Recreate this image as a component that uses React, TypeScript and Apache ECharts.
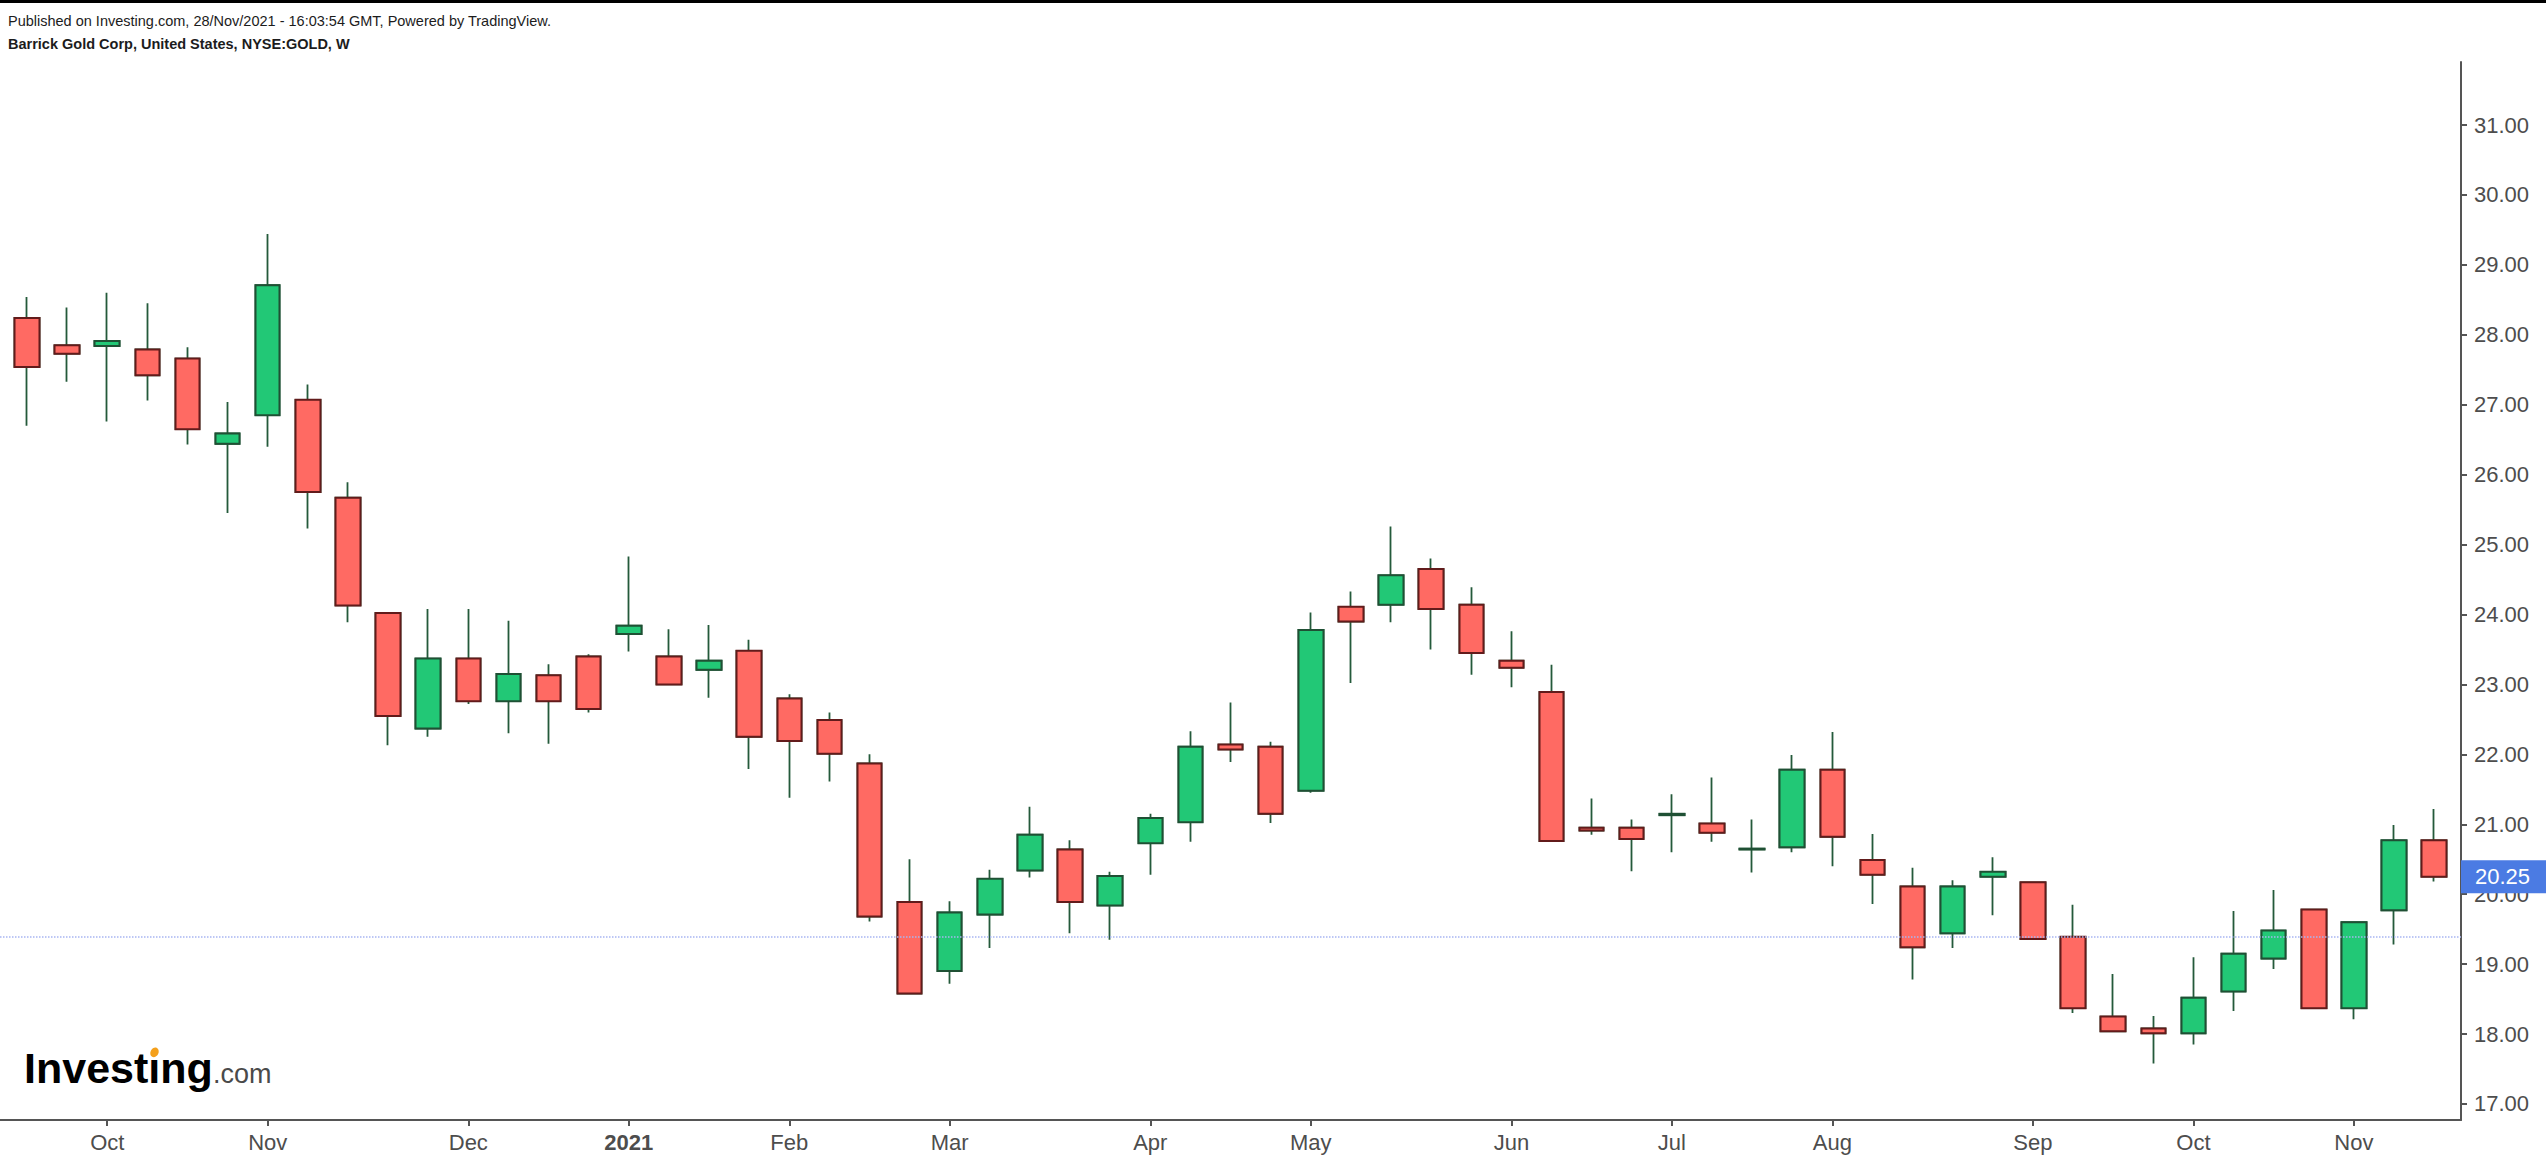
import React, { useEffect, useRef } from "react";
import * as echarts from "echarts";

// Weekly candles, week index 0 = 21 Sep 2020 ... 60 = 15 Nov 2021
const opens = [
  28.24, 27.85, 27.84, 27.79, 27.66, 26.44, 26.85, 27.07, 25.67, 24.02,
  22.37, 23.37, 22.76, 23.13, 23.40, 23.72, 23.40, 23.21, 23.48, 22.80,
  22.49, 21.87, 19.89, 18.90, 19.71, 20.34, 20.64, 19.84, 20.73, 21.03,
  22.14, 22.11, 21.48, 24.11, 24.14, 24.65, 24.14, 23.34, 22.89, 20.95,
  20.95, 21.13, 21.01, 20.64, 20.67, 21.78, 20.49, 20.11, 19.44, 20.25,
  20.17, 19.39, 18.25, 18.08, 18.01, 18.61, 19.08, 19.78, 18.37, 19.77,
  20.77,
];
const closes = [
  27.54, 27.73, 27.91, 27.42, 26.65, 26.59, 28.71, 25.75, 24.13, 22.55,
  23.37, 22.76, 23.15, 22.76, 22.65, 23.84, 23.00, 23.34, 22.25, 22.19,
  22.01, 19.68, 18.58, 19.74, 20.22, 20.85, 19.89, 20.26, 21.09, 22.11,
  22.07, 21.15, 23.78, 23.90, 24.56, 24.08, 23.45, 23.24, 20.76, 20.91,
  20.79, 21.15, 20.88, 20.65, 21.78, 20.82, 20.28, 19.24, 20.11, 20.32,
  19.36, 18.37, 18.04, 18.01, 18.52, 19.15, 19.48, 18.37, 19.60, 20.77,
  20.25,
];
const lows = [
  26.70, 27.33, 26.76, 27.06, 26.43, 25.45, 26.40, 25.23, 23.89, 22.13,
  22.25, 22.72, 22.30, 22.15, 22.60, 23.47, 22.99, 22.81, 21.79, 21.38,
  21.61, 19.61, 18.57, 18.72, 19.23, 20.24, 19.44, 19.35, 20.28, 20.75,
  21.89, 21.02, 21.45, 23.02, 23.89, 23.50, 23.14, 22.96, 20.75, 20.85,
  20.33, 20.60, 20.75, 20.31, 20.60, 20.40, 19.86, 18.78, 19.23, 19.70,
  19.35, 18.30, 18.03, 17.58, 17.85, 18.33, 18.93, 18.36, 18.21, 19.28,
  20.18,
];
const highs = [
  28.54, 28.39, 28.60, 28.45, 27.82, 27.04, 29.44, 27.29, 25.89, 24.02,
  24.08, 24.08, 23.91, 23.29, 23.43, 24.83, 23.79, 23.85, 23.64, 22.86,
  22.60, 22.00, 20.50, 19.90, 20.35, 21.25, 20.77, 20.32, 21.15, 22.33,
  22.74, 22.18, 24.03, 24.33, 25.26, 24.80, 24.39, 23.76, 23.28, 21.37,
  21.07, 21.43, 21.67, 21.07, 21.99, 22.32, 20.86, 20.38, 20.20, 20.53,
  20.18, 19.85, 18.86, 18.26, 19.10, 19.76, 20.06, 19.79, 19.61, 20.99,
  21.22,
];

// Month labels sit on the first weekly bar of each month
const monthTickIdx = [2, 6, 11, 15, 19, 23, 28, 32, 37, 41, 45, 50, 54, 58];
const monthTickLabels = ["Oct", "Nov", "Dec", "2021", "Feb", "Mar", "Apr", "May", "Jun", "Jul", "Aug", "Sep", "Oct", "Nov"];
const priceTicks = [17, 18, 19, 20, 21, 22, 23, 24, 25, 26, 27, 28, 29, 30, 31];
const lastPrice = 20.25;
const refLine = 19.39;

const FONT = '"Liberation Sans", Arial, Helvetica, sans-serif';

export default function App() {
  const ref = useRef<HTMLDivElement>(null);

  useEffect(() => {
    document.body.style.margin = "0";
    if (!ref.current) return;
    const chart = echarts.init(ref.current, null, { renderer: "svg" });

    const wickData = opens.map((o, i) => [i, o, closes[i], lows[i], highs[i]]);
    const bodyData = opens.map((o, i) => [
      i,
      o,
      closes[i],
      Math.min(o, closes[i]),
      Math.max(o, closes[i]),
    ]);

    const option: any = {
      animation: false,
      backgroundColor: "#ffffff",
      grid: {
        left: 0,
        right: 85,
        top: 62,
        bottom: 42,
        containLabel: false,
        outerBoundsMode: "none",
      },
      xAxis: {
        type: "value",
        min: -0.673,
        max: 60.67,
        axisLine: { show: true, onZero: false, lineStyle: { color: "#555555", width: 2 } },
        axisTick: {
          show: true,
          length: 6,
          customValues: monthTickIdx,
          lineStyle: { color: "#555555", width: 2 },
        },
        splitLine: { show: false },
        axisLabel: {
          show: true,
          customValues: monthTickIdx,
          margin: 11,
          color: "#4d4d4d",
          fontSize: 22,
          fontFamily: FONT,
          formatter: (v: number) => {
            const k = monthTickIdx.indexOf(Math.round(v));
            const t = k >= 0 ? monthTickLabels[k] : "";
            return t === "2021" ? "{b|2021}" : t;
          },
          rich: {
            b: { fontWeight: "bold", fontSize: 22, fontFamily: FONT, color: "#4d4d4d" },
          },
        },
      },
      yAxis: {
        type: "value",
        position: "right",
        min: 16.771,
        max: 31.901,
        splitNumber: 15,
        scale: true,
        axisLine: { show: true, onZero: false, lineStyle: { color: "#555555", width: 2 } },
        axisTick: {
          show: true,
          length: 6,
          customValues: priceTicks,
          lineStyle: { color: "#555555", width: 2 },
        },
        splitLine: { show: false },
        axisLabel: {
          show: true,
          customValues: priceTicks,
          margin: 13,
          color: "#4d4d4d",
          fontSize: 22,
          fontFamily: FONT,
          formatter: (v: number) => v.toFixed(2),
        },
      },
      series: [
        {
          name: "wicks",
          type: "candlestick",
          data: wickData,
          barWidth: 25,
          z: 2,
          itemStyle: {
            color: "rgba(0,0,0,0)",
            color0: "rgba(0,0,0,0)",
            borderColor: "#245a3b",
            borderColor0: "#245a3b",
            borderColorDoji: "#245a3b",
            borderWidth: 1.8,
          },
        },
        {
          name: "bodies",
          type: "candlestick",
          data: bodyData,
          barWidth: 25,
          z: 3,
          itemStyle: {
            color: "#22c876",
            color0: "#ff6a63",
            borderColor: "#1f5034",
            borderColor0: "#621b1b",
            borderColorDoji: "#1f5034",
            borderWidth: 2,
          },
          markLine: {
            silent: true,
            symbol: "none",
            animation: false,
            z: 5,
            data: [
              {
                yAxis: refLine,
                lineStyle: { color: "#a8b5f2", type: "dotted", width: 1.5 },
                label: { show: false },
              },
              {
                yAxis: lastPrice,
                lineStyle: { color: "rgba(0,0,0,0)", width: 1 },
                label: {
                  show: true,
                  position: "end",
                  distance: 0,
                  formatter: lastPrice.toFixed(2),
                  backgroundColor: "#4b7be3",
                  color: "#ffffff",
                  fontSize: 22,
                  fontFamily: FONT,
                  padding: [6, 18, 5, 14],
                },
              },
            ],
          },
        },
      ],
      graphic: [
        {
          type: "rect",
          shape: { x: 0, y: 0, width: 2546, height: 3 },
          style: { fill: "#000000" },
          silent: true,
        },
        {
          type: "text",
          x: 8,
          y: 21,
          style: {
            text: "Published on Investing.com, 28/Nov/2021 - 16:03:54 GMT, Powered by TradingView.",
            fontSize: 14.5,
            fontFamily: FONT,
            fill: "#1c1c1c",
            verticalAlign: "middle",
          },
          silent: true,
        },
        {
          type: "text",
          x: 8,
          y: 44,
          style: {
            text: "Barrick Gold Corp, United States, NYSE:GOLD, W",
            fontSize: 14.5,
            fontWeight: "bold",
            fontFamily: FONT,
            fill: "#1c1c1c",
            verticalAlign: "middle",
          },
          silent: true,
        },
        {
          type: "text",
          x: 24,
          y: 1068,
          style: {
            text: "Invest\u0131ng",
            fontSize: 43,
            fontWeight: "bold",
            fontFamily: FONT,
            fill: "#000000",
            verticalAlign: "middle",
          },
          silent: true,
        },
        {
          type: "ellipse",
          shape: { cx: 154, cy: 1052, rx: 4, ry: 5 },
          rotation: -0.5,
          originX: 154,
          originY: 1052,
          style: { fill: "#f4a01c" },
          silent: true,
        },
        {
          type: "text",
          x: 213,
          y: 1074,
          style: {
            text: ".com",
            fontSize: 27,
            fontFamily: FONT,
            fill: "#4a4a4a",
            verticalAlign: "middle",
          },
          silent: true,
        },
      ],
    };

    chart.setOption(option);
    return () => {
      chart.dispose();
    };
  }, []);

  return <div ref={ref} style={{ width: 2546, height: 1162 }} />;
}
